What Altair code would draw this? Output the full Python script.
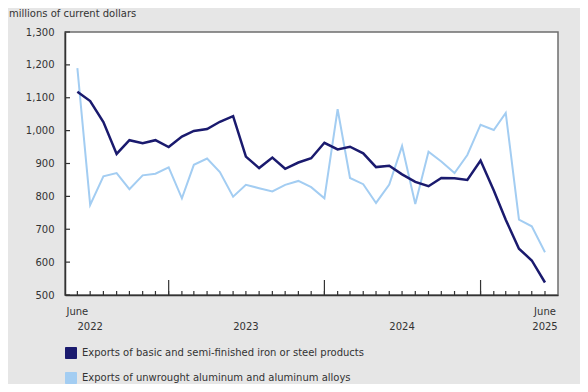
import altair as alt
import pandas as pd

# ---- data ----
months = [f"{2022 + (5 + i) // 12}-{(5 + i) % 12 + 1:02d}-01T00:00:00" for i in range(37)]  # Jun 2022 .. Jun 2025

steel = [1118, 1090, 1026, 929, 971, 962, 971, 950, 982, 999, 1005, 1027, 1044,
         921, 886, 918, 884, 903, 916, 963, 943, 951, 931, 889, 893, 867, 844,
         831, 856, 855, 850, 909, 818, 729, 641, 605, 538]
alum = [1190, 774, 861, 871, 822, 864, 869, 888, 794, 896, 915, 874, 799,
        835, 825, 815, 835, 847, 828, 794, 1065, 856, 837, 780, 836, 953, 777,
        936, 906, 871, 926, 1018, 1002, 1054, 729, 709, 630]

series_names = ["Exports of basic and semi-finished iron or steel products",
                "Exports of unwrought aluminum and aluminum alloys"]
series_colors = ["#1a1a6e", "#a3cdf2"]

y_ticks = [500, 600, 700, 800, 900, 1000, 1100, 1200, 1300]
major_tick_months = ["2023-01-01T00:00:00", "2024-01-01T00:00:00", "2025-01-01T00:00:00"]

month_label_dates = ["2022-06-01T00:00:00", "2025-06-01T00:00:00"]
month_label_text = ["June", "June"]
year_label_dates = ["2022-07-01T00:00:00", "2023-07-01T00:00:00", "2024-07-01T00:00:00", "2025-06-01T00:00:00"]
year_label_text = ["2022", "2023", "2024", "2025"]

# ---- tables ----
df = pd.DataFrame({
    "month": months * 2,
    "series": [series_names[0]] * len(steel) + [series_names[1]] * len(alum),
    "value": steel + alum,
})
ticks_df = pd.DataFrame({"month": months})
major_df = pd.DataFrame({"month": major_tick_months})
ytick_df = pd.DataFrame({"value": y_ticks})
mlab_df = pd.DataFrame({"month": month_label_dates, "text": month_label_text})
ylab_df = pd.DataFrame({"month": year_label_dates, "text": year_label_text})

W, H = 493, 263
FONT = "DejaVu Sans"
TXT = "#333333"

xscale = alt.Scale(domain=[alt.DateTime(year=2022, month=5, date=3),
                           alt.DateTime(year=2025, month=7, date=1, hours=12)])
yscale = alt.Scale(domain=[500, 1300], nice=False)
cscale = alt.Scale(domain=series_names, range=series_colors)

X = alt.X("month:T", scale=xscale,
          axis=alt.Axis(labels=False, ticks=False, grid=False, title=None,
                        domain=True, domainColor="#333333", domainWidth=1.5))
Y = alt.Y("value:Q", scale=yscale,
          axis=alt.Axis(values=y_ticks, format=",d", ticks=False, tickSize=0,
                        labelPadding=11, labelOverlap=False, grid=False, title=None,
                        domain=True, domainColor="#333333", domainWidth=1.5,
                        labelFont=FONT, labelFontSize=10, labelColor=TXT))

alum_line = alt.Chart(df).transform_filter(
    alt.datum.series == series_names[1]
).mark_line(strokeWidth=2, clip=False).encode(
    x=X, y=Y, color=alt.Color("series:N", scale=cscale, legend=None))

steel_line = alt.Chart(df).transform_filter(
    alt.datum.series == series_names[0]
).mark_line(strokeWidth=2.5, clip=False).encode(
    x=X, y=Y, color=alt.Color("series:N", scale=cscale, legend=None))

legend_layer = alt.Chart(df).mark_square(opacity=0, filled=True).encode(
    x=X, y=Y,
    color=alt.Color("series:N", scale=cscale,
                    legend=alt.Legend(title=None, orient="none", legendX=0, legendY=315,
                                      direction="vertical", symbolType="square",
                                      symbolSize=121, symbolOpacity=1,
                                      symbolStrokeColor="#333333", symbolStrokeWidth=1,
                                      labelFont=FONT, labelFontSize=10, labelColor=TXT,
                                      labelOffset=5, labelLimit=600, rowPadding=9,
                                      padding=0)))

minor_ticks = alt.Chart(ticks_df).mark_rule(color="#333333", strokeWidth=1.2).encode(
    x=X, y=alt.value(H), y2=alt.value(H - 4))
major_ticks = alt.Chart(major_df).mark_rule(color="#333333", strokeWidth=1.2).encode(
    x=X, y=alt.value(H), y2=alt.value(H - 15))
y_inner_ticks = alt.Chart(ytick_df).mark_rule(color="#333333", strokeWidth=1.2).encode(
    y=Y, x=alt.value(0), x2=alt.value(5))

month_labels = alt.Chart(mlab_df).mark_text(font=FONT, fontSize=10, color=TXT).encode(
    x=X, y=alt.value(H + 17), text="text:N")
year_labels = alt.Chart(ylab_df).mark_text(font=FONT, fontSize=10, color=TXT).encode(
    x=X, y=alt.value(H + 32), text="text:N")

chart = alt.layer(
    legend_layer, alum_line, steel_line, minor_ticks, major_ticks, y_inner_ticks,
    month_labels, year_labels
).properties(
    width=W, height=H,
    padding={"left": 57, "top": 24, "right": 22, "bottom": 89},
    autosize=alt.AutoSizeParams(type="none"),
    background="#e6e6e6",
    title=alt.TitleParams("millions of current dollars", anchor="start", frame="group",
                          dx=-56, dy=-3, offset=0, baseline="middle",
                          font=FONT, fontSize=10, fontWeight="normal", color=TXT),
).configure_view(
    fill="white", stroke="#6e6e6e", strokeWidth=1.5
)

chart.save("out.html", embed_options={"renderer": "svg", "actions": False})
